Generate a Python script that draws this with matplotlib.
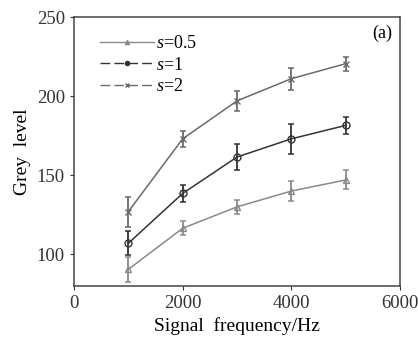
import numpy as np
import matplotlib
matplotlib.use('Agg')
import matplotlib.pyplot as plt
from matplotlib.lines import Line2D

plt.rcParams['font.family'] = 'Liberation Serif'
plt.rcParams['mathtext.fontset'] = 'custom'
plt.rcParams['mathtext.it'] = 'Liberation Serif:italic'
plt.rcParams['mathtext.rm'] = 'Liberation Serif'

freq = [1000, 2000, 3000, 4000, 5000]
grey_s05 = [90.5, 116.5, 130, 140, 147]
err_s05 = [8, 4.5, 4.5, 6.5, 6]
grey_s1 = [107, 138.5, 161.5, 173, 181.5]
err_s1 = [7.5, 5.5, 8.5, 9.5, 5.5]
grey_s2 = [127, 173, 197, 211, 220.5]
err_s2 = [9.5, 5, 6.5, 7, 4.5]
labels = ['$s$=0.5', '$s$=1', '$s$=2']

fig = plt.figure(figsize=(4.18, 3.38), dpi=100)
ax = fig.add_axes([74/418, 1 - 286/338, 326/418, 269/338])

series = [(grey_s05, err_s05, '#8a8a8a', '^', None),
          (grey_s1, err_s1, '#333333', 'o', (7, 3)),
          (grey_s2, err_s2, '#6a6a6a', 'x', (7, 3))]
handles = []
for (y, e, c, m, ds), lab in zip(series, labels):
    ax.errorbar(freq, y, yerr=e, color=c, marker=m, markersize=5,
                markerfacecolor='none', markeredgecolor=c, linewidth=1.1,
                elinewidth=1.3, capsize=2.5, capthick=1.1)
    h = Line2D([], [], color=c, marker=m, markersize=3,
               markerfacecolor=c, linewidth=1.0, label=lab)
    if ds:
        h.set_dashes(ds)
    handles.append(h)

ax.legend(handles=handles, loc='upper left', frameon=False, fontsize=13,
          handlelength=3.0, handletextpad=0.1, labelspacing=0.25,
          borderaxespad=0.3, bbox_to_anchor=(0.04, 0.98))
ax.text(0.975, 0.94, '(a)', transform=ax.transAxes, ha='right', va='center',
        fontsize=13)

ax.set_xlim(0, 6000)
ax.set_ylim(80, 250)
ax.set_xticks([0, 2000, 4000, 6000])
ax.set_yticks([100, 150, 200, 250])
ax.tick_params(labelsize=13.5, direction='out', length=3, top=False, right=False,
               colors='#333333')
for sp in ax.spines.values():
    sp.set_linewidth(1.1)
    sp.set_color('#444444')

ax.set_xlabel('Signal  frequency/Hz', fontsize=14, labelpad=4)
ax.set_ylabel('Grey  level', fontsize=14, labelpad=4)

fig.savefig('out.png', dpi=100)
